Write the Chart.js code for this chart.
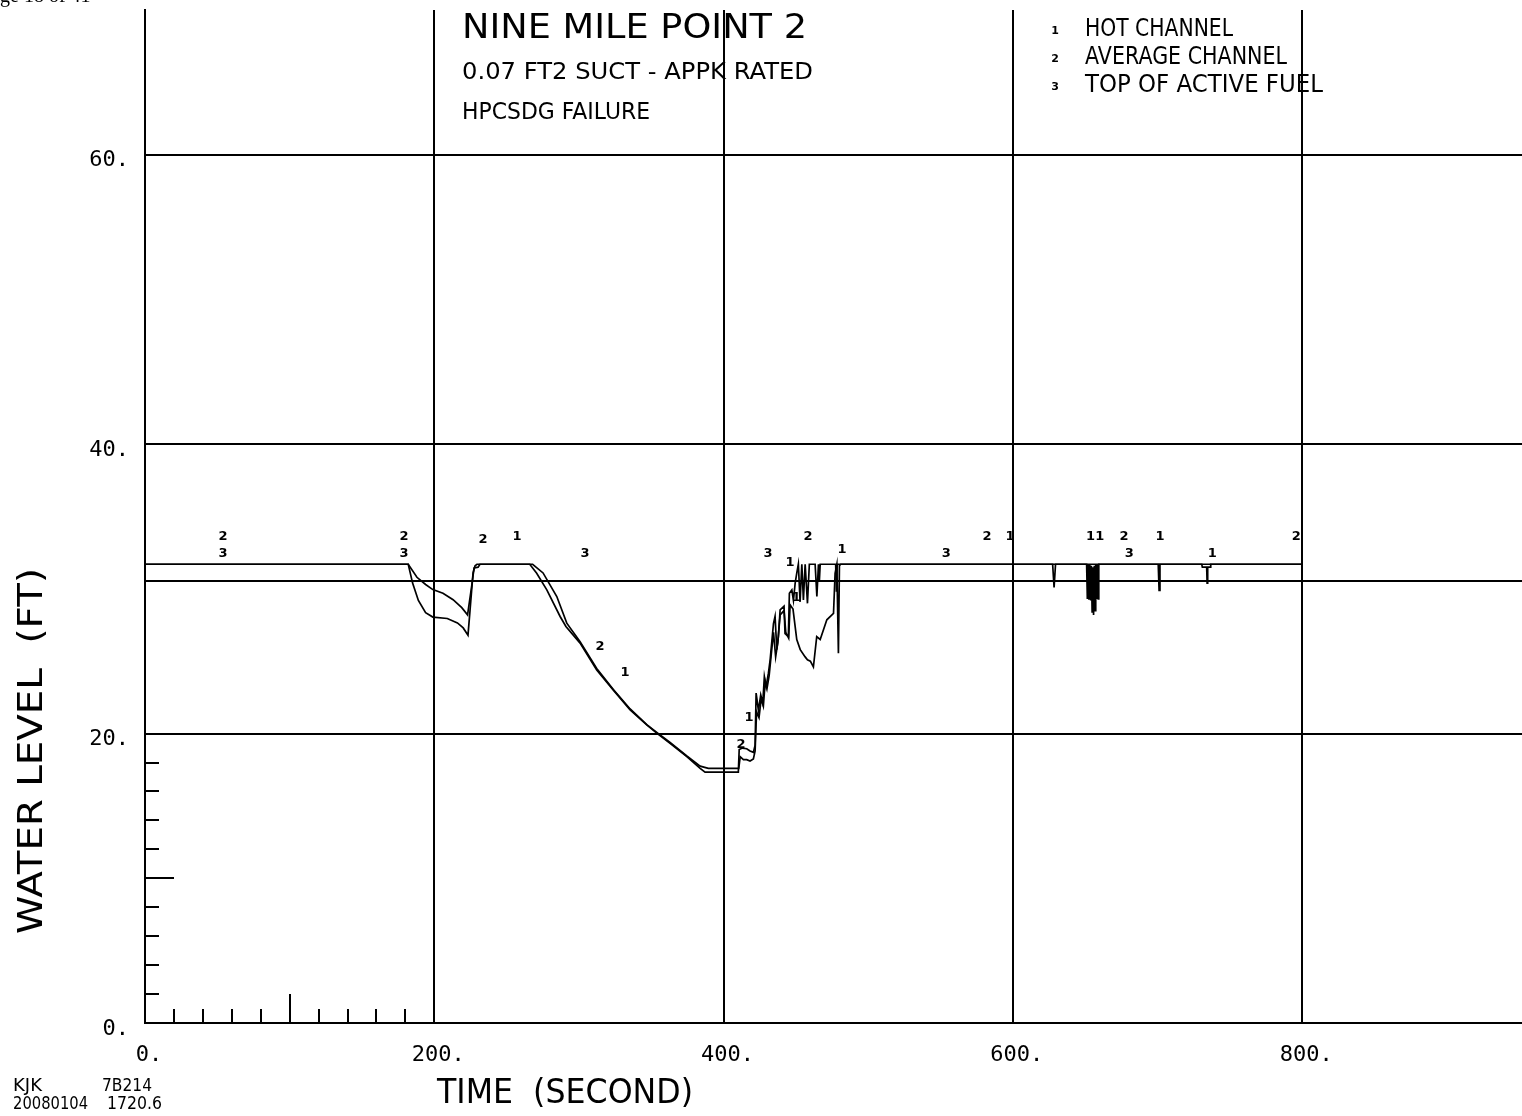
<!DOCTYPE html>
<html><head><meta charset="utf-8">
<script src="https://cdn.jsdelivr.net/npm/chart.js@4.4.1/dist/chart.umd.min.js"></script>
<style>html,body{margin:0;padding:0;background:#fff;overflow:hidden}#wrap{width:1522px;height:1116px;position:relative}</style>
</head><body><div id="wrap"><canvas id="c"></canvas></div>
<script>
// ---- data (time in s, level in ft) ----
const hotTime = [0,182,185,189,194,199,209,216,220,223.3,224.7,226.8,228.2,229.5,266,270.8,277.8,287,291,300.8,312.3,323.8,335.4,346.9,353.8,363,374.6,383.8,387.2,410.2,410.8,413,416,418.3,420.6,421.8,422.5,424.1,425.7,427.1,428.2,429.4,431,432.2,434.5,435.6,436.8,437.9,439.1,441.8,442.5,444.8,445.5,447.2,448.3,449.5,450.6,451.7,452.9,454.1,455.2,456.4,458,459.3,463.3,464.5,465.6,466.2,466.8,477.5,478,478.5,627.5,628.5,629.5,651,651.5,652,652.6,653.2,653.8,654.3,654.8,655.3,655.8,656.3,656.8,657.3,657.9,658.5,659,659.4,700.5,701.1,701.7,730.6,731,734,734.3,734.7,736.4,736.8,800];
const hotLevel = [31.7,31.7,30.4,29.2,28.35,28.05,27.95,27.65,27.3,26.8,28.5,31.1,31.6,31.7,31.7,31.08,29.93,28.09,27.4,26.25,24.4,23.0,21.64,20.6,20.03,19.33,18.41,17.6,17.33,17.33,18.9,19.0,18.95,18.8,18.7,19.2,22.8,21.6,22.67,22.1,23.94,23.25,24.17,25.1,27.6,28.1,25.8,26.7,28.55,28.8,26.9,26.7,29.7,29.93,29.2,30.4,31.08,31.7,29.1,31.7,29.24,31.7,29.0,31.7,31.7,29.47,31.7,30.5,31.7,31.7,29.8,31.7,31.7,30.1,31.7,31.7,29.3,31.7,29.25,31.7,29.2,31.6,28.4,31.5,28.2,31.6,28.5,31.7,29.3,31.7,29.3,31.7,31.7,29.9,31.7,31.7,31.5,31.5,30.4,31.5,31.5,31.7,31.7];
const avgTime = [0,182,188,194,199,206,213,219,223,226,227.5,230.3,231.6,268,275.2,284.7,291.6,300.8,312.3,323.8,335.4,346.9,353.8,363,374.6,383.8,389.5,410.5,411.5,413.7,416,418.3,420.6,421.8,422.8,424.5,426,427.5,428.8,430,431.5,433,434.5,436,437.5,439.1,441.8,443,445,446,448,450.6,453,456.4,458,460,462.1,464.4,466.8,471.4,476,477.1,478.3,479.4,480.1,481,800];
const avgLevel = [31.7,31.7,30.8,30.3,29.95,29.7,29.25,28.7,28.2,30.3,31.45,31.5,31.7,31.7,31.1,29.47,27.63,26.35,24.5,23.05,21.7,20.62,20.08,19.38,18.45,17.75,17.6,17.6,18.4,18.2,18.2,18.1,18.25,18.8,21.5,21.1,22.4,21.9,23.6,23.1,24.0,25.5,27.0,25.3,26.3,28.2,28.5,27.0,26.6,28.9,28.6,26.5,25.8,25.3,25.1,25.0,24.6,26.7,26.5,27.86,28.3,31.08,31.7,25.55,31.6,31.7,31.7];
const tafTime = [0, 952];
const tafLevel = [30.55, 30.55];

const xTickValues = [0, 200, 400, 600, 800];
const yTickValues = [0, 20, 40, 60];
const xMinorTicks = [20, 40, 60, 80, 100, 120, 140, 160, 180];
const yMinorTicks = [2, 4, 6, 8, 10, 12, 14, 16, 18];

// curve identifier marks (time, level, text)
const markTime  = [53.9,53.9,179.1,179.1,233.7,257.2,304.2,314.6,331.9,430.8,446,450.2,417.6,412.1,458.4,481.9,553.9,582.2,598.1,656.9,676.9,680.4,701.8,737.8,795.9];
const markLevel = [33.59,32.42,33.59,32.42,33.39,33.59,32.42,25.99,24.21,32.42,31.8,29.38,21.08,19.22,33.59,32.7,32.42,33.59,33.59,33.59,33.59,32.42,33.59,32.42,33.59];
const markText  = ['2','3','2','3','2','1','3','2','1','3','1','1','1','2','2','1','3','2','1','11','2','3','1','1','2'];

const seriesNames = ['HOT CHANNEL', 'AVERAGE CHANNEL', 'TOP OF ACTIVE FUEL'];
const titleLines = ['NINE MILE POINT 2', '0.07 FT2 SUCT - APPK RATED', 'HPCSDG FAILURE'];

function pts(t, v) { return t.map((x, i) => ({x: x, y: v[i]})); }

function fitText(ctx, text, x, y, font, width, align, rot) {
  ctx.save();
  ctx.font = font;
  const w = ctx.measureText(text).width;
  ctx.translate(x, y);
  if (rot) ctx.rotate(rot);
  if (width) ctx.scale(width / w, 1);
  ctx.textAlign = align || 'left';
  ctx.textBaseline = 'middle';
  ctx.fillStyle = '#000';
  ctx.fillText(text, 0, 0);
  ctx.restore();
}

const FONT = '"DejaVu Sans", sans-serif';

const decor = {
  id: 'decor',
  afterDraw(chart) {
    const ctx = chart.ctx;
    const xs = chart.scales.x, ys = chart.scales.y;
    const ca = chart.chartArea;
    ctx.save();
    ctx.strokeStyle = '#000';
    ctx.lineWidth = 2;
    // inward minor ticks
    yMinorTicks.forEach(v => {
      const py = Math.round(ys.getPixelForValue(v));
      const len = (v === 10) ? 29 : 14;
      ctx.beginPath(); ctx.moveTo(ca.left, py); ctx.lineTo(ca.left + len, py); ctx.stroke();
    });
    xMinorTicks.forEach(v => {
      const px = Math.round(xs.getPixelForValue(v));
      const len = (v === 100) ? 29 : 14;
      ctx.beginPath(); ctx.moveTo(px, ca.bottom); ctx.lineTo(px, ca.bottom - len); ctx.stroke();
    });
    ctx.restore();

    // curve identifier marks
    ctx.save();
    ctx.fillStyle = '#000';
    ctx.font = 'bold 13px ' + FONT;
    ctx.textAlign = 'center';
    ctx.textBaseline = 'middle';
    markText.forEach((s, i) => {
      ctx.fillText(s, xs.getPixelForValue(markTime[i]), ys.getPixelForValue(markLevel[i]));
    });
    ctx.restore();

    // titles
    fitText(ctx, titleLines[0], 462, 29, '33px ' + FONT, 345, 'left');
    fitText(ctx, titleLines[1], 462, 73, '23px ' + FONT, 351, 'left');
    fitText(ctx, titleLines[2], 462, 113, '23px ' + FONT, 188, 'left');

    // legend
    const legY = [30, 58, 86];
    const legW = [148, 202, 238];
    seriesNames.forEach((n, i) => {
      fitText(ctx, String(i + 1), 1055, legY[i] + 1, 'bold 11px ' + FONT, 0, 'center');
      fitText(ctx, n, 1085, legY[i], '24px ' + FONT, legW[i], 'left');
    });

    // axis titles
    fitText(ctx, 'WATER LEVEL  (FT)', 33, 751, '33px ' + FONT, 366, 'center', -Math.PI / 2);
    fitText(ctx, 'TIME  (SECOND)', 437, 1094, '34px ' + FONT, 256, 'left');

    // footer ids
    fitText(ctx, 'KJK', 13, 1087, '17px ' + FONT, 29, 'left');
    fitText(ctx, '7B214', 102, 1087, '17px ' + FONT, 50, 'left');
    fitText(ctx, '20080104', 13, 1105, '17px ' + FONT, 75, 'left');
    fitText(ctx, '1720.6', 107, 1105, '17px ' + FONT, 55, 'left');

    // clipped page header remnant
    ctx.save();
    ctx.font = '20px "Liberation Serif", serif';
    ctx.textBaseline = 'alphabetic';
    ctx.fillStyle = '#000';
    ctx.fillText('ge 18 of 41', 0, 2);
    ctx.restore();
  }
};

const lineStyle = {borderColor: '#000', borderWidth: 1.7, pointRadius: 0, fill: false, tension: 0};

new Chart(document.getElementById('c'), {
  type: 'line',
  data: {
    datasets: [
      Object.assign({label: seriesNames[0], data: pts(hotTime, hotLevel)}, lineStyle),
      Object.assign({label: seriesNames[1], data: pts(avgTime, avgLevel)}, lineStyle),
      Object.assign({label: seriesNames[2], data: pts(tafTime, tafLevel)}, lineStyle, {borderWidth: 2})
    ]
  },
  options: {
    responsive: true,
    maintainAspectRatio: false,
    animation: false,
    layout: {padding: {top: 10, right: 0, bottom: 0, left: 0}},
    plugins: {legend: {display: false}, tooltip: {enabled: false}},
    scales: {
      x: {
        type: 'linear', min: 0, max: 952,
        afterFit: s => { s.height = 93; s.paddingLeft = 0; s.paddingRight = 0; },
        afterBuildTicks: s => { s.ticks = xTickValues.map(v => ({value: v})); },
        ticks: {autoSkip: false, maxRotation: 0, padding: 19, labelOffset: 4, color: '#000',
                font: {family: '"DejaVu Sans Mono", monospace', size: 22},
                callback: v => v + '.'},
        grid: {drawTicks: false, lineWidth: 2,
               color: c => (c.tick && c.tick.value > 0) ? '#000' : 'rgba(0,0,0,0)'},
        border: {display: true, color: '#000', width: 2}
      },
      y: {
        type: 'linear', min: 0, max: 70,
        afterFit: s => { s.width = 145; s.paddingTop = 0; s.paddingBottom = 0; },
        afterBuildTicks: s => { s.ticks = yTickValues.map(v => ({value: v})); },
        ticks: {autoSkip: false, padding: 16, labelOffset: 6, color: '#000',
                font: {family: '"DejaVu Sans Mono", monospace', size: 22},
                callback: v => v + '.'},
        grid: {drawTicks: false, lineWidth: 2,
               color: c => (c.tick && c.tick.value > 0) ? '#000' : 'rgba(0,0,0,0)'},
        border: {display: true, color: '#000', width: 2}
      }
    }
  },
  plugins: [decor]
});
</script></body></html>
